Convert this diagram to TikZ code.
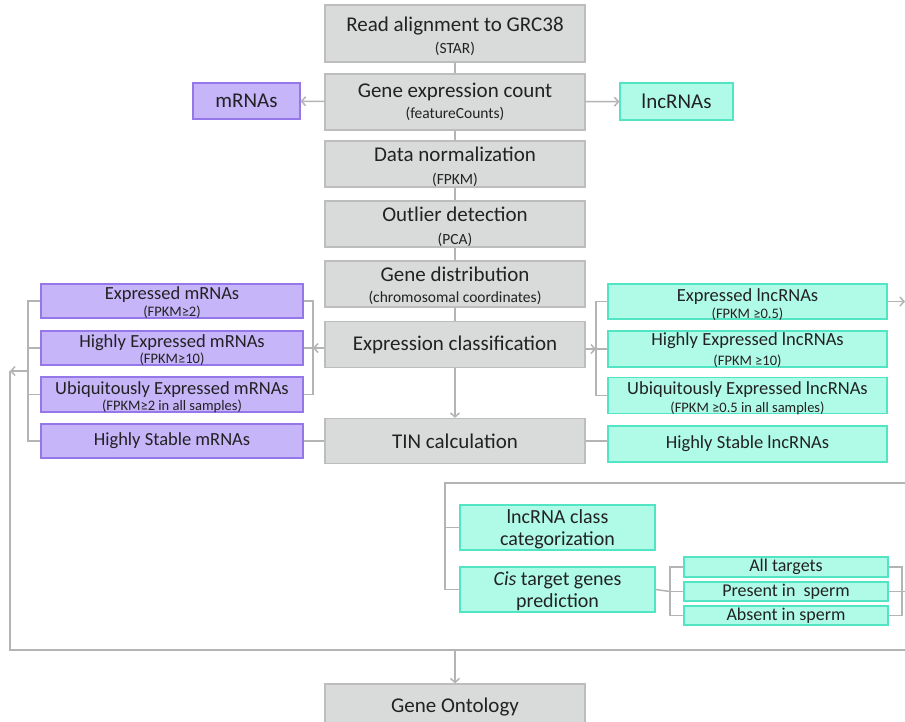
\documentclass[tikz,border=0pt]{standalone}
\usepackage{fontspec}
\setmainfont{Carlito}
\usetikzlibrary{arrows.meta}
\definecolor{gfill}{HTML}{D9DADA}
\definecolor{gline}{HTML}{BDBDBD}
\definecolor{pfill}{HTML}{C6B5F9}
\definecolor{pline}{HTML}{9677EA}
\definecolor{cfill}{HTML}{B0FBE7}
\definecolor{cline}{HTML}{52E5C4}
\definecolor{conn}{HTML}{B4B4B4}
\definecolor{txt}{HTML}{222222}
\newcommand\gmainf{\fontsize{21}{24}\selectfont}
\newcommand\gsubf{\fontsize{15.5}{18}\selectfont}
\newcommand\pmainf{\fontsize{18.5}{21}\selectfont}
\newcommand\psubf{\fontsize{14.5}{17}\selectfont}
\newcommand\lmainf{\fontsize{20}{23}\selectfont}
\newcommand\smainf{\fontsize{18}{20}\selectfont}
\begin{document}
\begin{tikzpicture}[x=1pt,y=-1pt,
  box/.style={rectangle, inner sep=0pt, align=center, line width=1.2pt, text=txt},
  gbox/.style={box, fill=gfill, draw=gline, minimum width=260pt},
  pbox/.style={box, fill=pfill, draw=pline},
  cbox/.style={box, fill=cfill, draw=cline},
  lbl/.style={anchor=base, inner sep=0pt, text=txt},
  link/.style={draw=conn, line width=1.5pt},
  arr/.style={link, -{Straight Barb[length=4pt,width=9pt]}}]
\useasboundingbox[fill=white] (0,0) rectangle (905,721);

% central column boxes
\node[gbox, minimum height=57pt] (read) at (455,33.5) {};
\node[gbox, minimum height=56pt] (count) at (455,102) {};
\node[gbox, minimum height=46pt] (norm) at (455,164) {};
\node[gbox, minimum height=46pt] (outl) at (455,224) {};
\node[gbox, minimum height=46pt] (dist) at (455,284) {};
\node[gbox, minimum height=46pt] (expr) at (455,344.5) {\gmainf Expression classification};
\node[gbox, minimum height=45pt] (tin) at (455,441) {\gmainf TIN calculation};
\node[gbox, minimum height=46pt] (go) at (455,707) {\gmainf Gene Ontology};
% central column texts
\node[lbl] (read-a) at (455,31) {\gmainf Read alignment to GRC38};
\node[lbl] (read-b) at (455,53) {\gsubf (STAR)};
\node[lbl] (count-a) at (455,97) {\gmainf Gene expression count};
\node[lbl] (count-b) at (455,118) {\gsubf (featureCounts)};
\node[lbl] (norm-a) at (455,161) {\gmainf Data normalization};
\node[lbl] (norm-b) at (455,184) {\gsubf (FPKM)};
\node[lbl] (outl-a) at (455,221) {\gmainf Outlier detection};
\node[lbl] (outl-b) at (455,244) {\gsubf (PCA)};
\node[lbl] (dist-a) at (455,281) {\gmainf Gene distribution};
\node[lbl] (dist-b) at (455,302) {\gsubf (chromosomal coordinates)};

% mRNAs / lncRNAs
\node[pbox, minimum width=107pt, minimum height=36pt] (mrna) at (246.5,101) {\gmainf mRNAs};
\node[cbox, minimum width=113pt, minimum height=37pt] (lnc) at (676.5,101.5) {\gmainf lncRNAs};

% purple column
\node[pbox, minimum width=262pt, minimum height=34pt] (pe) at (172,301) {};
\node[pbox, minimum width=262pt, minimum height=34pt] (ph) at (172,348) {};
\node[pbox, minimum width=262pt, minimum height=35pt] (pu) at (172,394.5) {};
\node[pbox, minimum width=262pt, minimum height=34pt] (ps) at (172,441) {\pmainf Highly Stable mRNAs};
\node[lbl] (pe-a) at (172,299) {\pmainf Expressed mRNAs};
\node[lbl] (pe-b) at (172,316) {\psubf (FPKM≥2)};
\node[lbl] (ph-a) at (172,347) {\pmainf Highly Expressed mRNAs};
\node[lbl] (ph-b) at (172,363) {\psubf (FPKM≥10)};
\node[lbl] (pu-a) at (172,394) {\pmainf Ubiquitously Expressed mRNAs};
\node[lbl] (pu-b) at (172,410) {\psubf (FPKM≥2 in all samples)};

% cyan column
\node[cbox, minimum width=279pt, minimum height=35pt] (ce) at (747.5,301.5) {};
\node[cbox, minimum width=279pt, minimum height=36pt] (ch) at (747.5,349) {};
\node[cbox, minimum width=279pt, minimum height=36pt] (cu) at (747.5,395.5) {};
\node[cbox, minimum width=279pt, minimum height=36pt] (cs) at (747.5,444) {\pmainf Highly Stable lncRNAs};
\node[lbl] (ce-a) at (747.5,301) {\pmainf Expressed lncRNAs};
\node[lbl] (ce-b) at (747.5,318) {\psubf (FPKM ≥0.5)};
\node[lbl] (ch-a) at (747.5,345) {\pmainf Highly Expressed lncRNAs};
\node[lbl] (ch-b) at (747.5,365) {\psubf (FPKM ≥10)};
\node[lbl] (cu-a) at (747.5,394) {\pmainf Ubiquitously Expressed lncRNAs};
\node[lbl] (cu-b) at (747.5,412) {\psubf (FPKM ≥0.5 in all samples)};

% lncRNA analysis block
\node[cbox, minimum width=195pt, minimum height=45pt] (lcat) at (557.5,527.5) {};
\node[cbox, minimum width=195pt, minimum height=45pt] (cis) at (557.5,589.5) {};
\node[lbl] (lcat-a) at (557.5,523.5) {\lmainf lncRNA class};
\node[lbl] (lcat-b) at (557.5,545.5) {\lmainf categorization};
\node[lbl] (cis-a) at (557.5,585.5) {\lmainf \textit{Cis} target genes};
\node[lbl] (cis-b) at (557.5,607.5) {\lmainf prediction};
\node[cbox, minimum width=204pt, minimum height=20pt] (allt) at (786,567) {\smainf All targets};
\node[cbox, minimum width=204pt, minimum height=19pt] (pres) at (786,591.5) {\smainf Present in\ \ sperm};
\node[cbox, minimum width=204pt, minimum height=19pt] (abs) at (786,615.5) {\smainf Absent in sperm};

% named free ends
\coordinate (pbr) at (313,348);
\coordinate (plb) at (28,301);
\coordinate (fb) at (10,371);
\coordinate (cbr) at (596,349);
\coordinate (ceR) at (905,301.5);
\coordinate (topR) at (908,483);
\coordinate (topL) at (445,483);
\coordinate (botL) at (10,650);
\coordinate (botR) at (908,650);
\coordinate (botM) at (455,650);
\coordinate (tbr) at (670,591.5);
\coordinate (rbr) at (902,591.5);
\coordinate (rR) at (908,591.5);

% central links
\draw[link] (read) -- (count);
\draw[link] (count) -- (norm);
\draw[link] (norm) -- (outl);
\draw[link] (outl) -- (dist);
\draw[link] (dist) -- (expr);
\draw[arr] (expr) -- (tin);
\draw[arr] (count) -- (mrna);
\draw[arr] (count) -- (lnc);

% purple brackets
\draw[link] (pe.east) -- (pe.east -| pbr) -- (pu.east -| pbr) -- (pu.east);
\draw[link] (pbr) -- (ph.east);
\draw[arr] (expr.west |- pbr) -- (pbr);
\draw[link] (pe.west) -- (plb) -- (ps.west -| plb) -- (ps.west);
\draw[link] (ph.west -| plb) -- (ph.west);
\draw[link] (pu.west -| plb) -- (pu.west);
\draw[arr] (fb -| plb) -- (fb);
\draw[link] (fb) -- (botL) -- (botR);
\draw[arr] (botM) -- (go);

% cyan brackets
\draw[link] (ce.west) -- (ce.west -| cbr) -- (cu.west -| cbr) -- (cu.west);
\draw[link] (cbr) -- (ch.west);
\draw[arr] (expr.east |- cbr) -- (cbr);
\draw[arr] (ce.east) -- (ceR);

% TIN links
\draw[link] (tin.west) -- (ps.east);
\draw[link] (tin.east) -- (tin.east -| cs.west);

% lncRNA block
\draw[link] (topR) -- (topL) -- (topL |- cis.west) -- (cis.west);
\draw[link] (topL |- lcat.west) -- (lcat.west);
\draw[link] (cis.east) -- (tbr);
\draw[link] (allt.west) -- (allt.west -| tbr) -- (abs.west -| tbr) -- (abs.west);
\draw[link] (tbr) -- (pres.west);
\draw[link] (allt.east) -- (allt.east -| rbr) -- (abs.east -| rbr) -- (abs.east);
\draw[link] (pres.east) -- (rR);
\end{tikzpicture}
\end{document}
